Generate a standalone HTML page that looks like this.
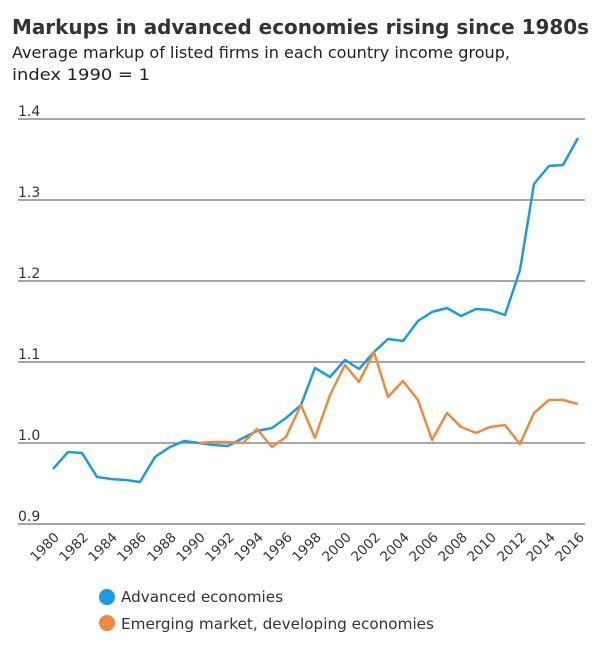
<!DOCTYPE html>
<html><head><meta charset="utf-8"><style>
body{margin:0;background:#fff;width:600px;height:653px;overflow:hidden;font-family:"DejaVu Sans",sans-serif}
</style></head><body>
<svg width="600" height="653" xmlns="http://www.w3.org/2000/svg" font-family="DejaVu Sans, sans-serif">
<text x="12" y="34" font-size="20" font-weight="bold" fill="#333" textLength="577" lengthAdjust="spacingAndGlyphs">Markups in advanced economies rising since 1980s</text>
<text x="12" y="58" font-size="16" fill="#222" textLength="498" lengthAdjust="spacingAndGlyphs">Average markup of listed firms in each country income group,</text>
<text x="12" y="80" font-size="16" fill="#222" textLength="138" lengthAdjust="spacingAndGlyphs">index 1990 = 1</text>
<g stroke="#8a8a8a" stroke-width="1.5">
<line x1="18" x2="585" y1="119" y2="119"/><line x1="18" x2="585" y1="200" y2="200"/>
<line x1="18" x2="585" y1="281" y2="281"/><line x1="18" x2="585" y1="362" y2="362"/>
<line x1="18" x2="585" y1="443" y2="443"/><line x1="18" x2="585" y1="524" y2="524"/>
</g>
<g font-size="14" fill="#333">
<text x="18" y="116">1.4</text><text x="18" y="197">1.3</text><text x="18" y="278">1.2</text>
<text x="18" y="359">1.1</text><text x="18" y="440">1.0</text><text x="18" y="521">0.9</text>
</g>
<polyline fill="none" stroke="#1a9be6" stroke-width="2.5" stroke-linejoin="round" points="53,469 68,452 82,453 97,477 111,479 126,480 140,482 155,457 170,447 184,441 199,443 213,445 228,446 243,438 257,431 272,428 286,418 301,405 315,368 330,377 345,360 359,369 374,352 388,339 403,341 418,321 432,312 447,308 461,316 476,309 490,310 505,315 520,270 534,184 549,166 563,165 578,138"/>
<polyline fill="none" stroke="#ef8a3c" stroke-width="2.5" stroke-linejoin="round" points="199,443 213,442 228,442 243,443 257,429 272,447 286,437 301,405 315,438 330,395 345,365 359,382 374,352 388,397 403,381 418,400 432,440 447,413 461,427 476,433 490,427 505,425 520,444 534,413 549,400 563,400 578,404"/>
<g font-size="13.5" fill="#333" text-anchor="end">
<text transform="translate(60,538) rotate(-45)">1980</text>
<text transform="translate(89,538) rotate(-45)">1982</text>
<text transform="translate(118,538) rotate(-45)">1984</text>
<text transform="translate(147,538) rotate(-45)">1986</text>
<text transform="translate(177,538) rotate(-45)">1988</text>
<text transform="translate(206,538) rotate(-45)">1990</text>
<text transform="translate(235,538) rotate(-45)">1992</text>
<text transform="translate(264,538) rotate(-45)">1994</text>
<text transform="translate(293,538) rotate(-45)">1996</text>
<text transform="translate(322,538) rotate(-45)">1998</text>
<text transform="translate(352,538) rotate(-45)">2000</text>
<text transform="translate(381,538) rotate(-45)">2002</text>
<text transform="translate(410,538) rotate(-45)">2004</text>
<text transform="translate(439,538) rotate(-45)">2006</text>
<text transform="translate(468,538) rotate(-45)">2008</text>
<text transform="translate(497,538) rotate(-45)">2010</text>
<text transform="translate(527,538) rotate(-45)">2012</text>
<text transform="translate(556,538) rotate(-45)">2014</text>
<text transform="translate(585,538) rotate(-45)">2016</text>
</g>
<circle cx="107" cy="597" r="8" fill="#1a9be6"/>
<text x="121" y="602" font-size="15.5" fill="#333" textLength="162" lengthAdjust="spacingAndGlyphs">Advanced economies</text>
<circle cx="107" cy="623" r="8" fill="#ef8a3c"/>
<text x="121" y="629" font-size="15.5" fill="#333" textLength="313" lengthAdjust="spacingAndGlyphs">Emerging market, developing economies</text>
</svg>
</body></html>
